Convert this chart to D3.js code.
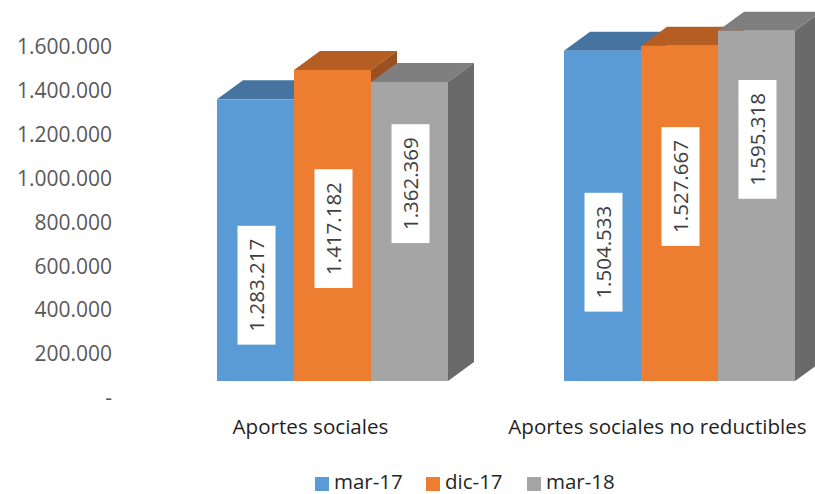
<!DOCTYPE html>
<html>
<head>
<meta charset="utf-8">
<script src="https://cdn.jsdelivr.net/npm/d3@7"></script>
<style>
  html, body { margin: 0; padding: 0; background: #fff; }
  svg { display: block; font-family: "Open Sans", "Liberation Sans", sans-serif; }
</style>
</head>
<body>
<svg id="chart" width="815" height="494"></svg>
<script>
// Categories, series and values
const categories = ["Aportes sociales", "Aportes sociales no reductibles"];
const seriesNames = ["mar-17", "dic-17", "mar-18"];
const marzo17 = [1283217, 1504533];
const diciembre17 = [1417182, 1527667];
const marzo18 = [1362369, 1595318];
const tickValues = [0, 200000, 400000, 600000, 800000, 1000000, 1200000, 1400000, 1600000];

const seriesValues = [marzo17, diciembre17, marzo18];

// Face colours: front, top, side
const palette = [
  { front: "#5B9BD5", top: "#44749F", side: "#3A6590" },
  { front: "#ED7D31", top: "#B45E24", side: "#9A5020" },
  { front: "#A5A5A5", top: "#7F7F7F", side: "#6A6A6A" }
];

// 3D look: depth offset of the back faces
const depthX = 26, depthY = -19;
// Value axis labels sit slightly below the front baseline
const tickShift = 17;
// Where each value label box sits along its bar (share of bar height)
const labelShare = [[0.34, 0.49, 0.66], [0.39, 0.58, 0.69]];

const svg = d3.select("#chart");
const fmt = v => v === 0 ? "-" : d3.format(",")(v).replace(/,/g, ".");

const y = d3.scaleLinear().domain([0, 1600000]).range([381, 381 - 1.6 * 219.5]);
const x0 = d3.scaleBand().domain(categories).range([217, 795]).paddingInner(0.3343).paddingOuter(0);
const x1 = d3.scaleBand().domain(seriesNames).range([0, x0.bandwidth()]).padding(0);

// Value axis (labels only)
const axis = svg.append("g")
  .attr("transform", `translate(112,${tickShift})`)
  .call(d3.axisLeft(y).tickValues(tickValues).tickFormat(fmt).tickSize(0).tickPadding(0));
axis.select(".domain").remove();
axis.selectAll("text")
  .attr("font-family", "Open Sans")
  .attr("font-size", 21)
  .attr("fill", "#595959");

// Bars as prisms: top, side, front (painted left to right)
const bars = [];
categories.forEach((c, g) => {
  seriesNames.forEach((s, i) => {
    bars.push({ g, i, cat: c, series: s, value: seriesValues[i][g] });
  });
});

const barG = svg.append("g");
bars.forEach(d => {
  const xl = x0(d.cat) + x1(d.series);
  const xr = xl + x1.bandwidth();
  const yt = y(d.value);
  const yb = y(0);
  const col = palette[d.i];
  const grp = barG.append("g");
  grp.append("path")
    .attr("d", `M${xl},${yt}L${xr},${yt}L${xr + depthX},${yt + depthY}L${xl + depthX},${yt + depthY}Z`)
    .attr("fill", col.top);
  grp.append("path")
    .attr("d", `M${xr},${yt}L${xr + depthX},${yt + depthY}L${xr + depthX},${yb + depthY}L${xr},${yb}Z`)
    .attr("fill", col.side);
  grp.append("rect")
    .attr("x", xl).attr("y", yt)
    .attr("width", xr - xl).attr("height", yb - yt)
    .attr("fill", col.front);
});

// Value labels in white boxes, rotated
const labelG = svg.append("g");
bars.forEach(d => {
  const cx = x0(d.cat) + x1(d.series) + x1.bandwidth() / 2 + 1;
  const cy = y(d.value * labelShare[d.g][d.i]);
  const g = labelG.append("g").attr("transform", `translate(${cx},${cy}) rotate(-90)`);
  const t = g.append("text")
    .attr("text-anchor", "middle")
    .attr("dy", "0.35em")
    .attr("font-family", "Open Sans")
    .attr("font-size", 20.5)
    .attr("fill", "#404040")
    .text(fmt(d.value));
  const w = t.node().getComputedTextLength();
  g.insert("rect", "text")
    .attr("x", -w / 2 - 13).attr("y", -19)
    .attr("width", w + 26).attr("height", 38)
    .attr("fill", "#fff");
});

// Category labels
svg.append("g").selectAll("text")
  .data(categories)
  .join("text")
  .attr("x", d => x0(d) + x0.bandwidth() / 2 - 22)
  .attr("y", 434)
  .attr("text-anchor", "middle")
  .attr("font-family", "Open Sans")
  .attr("font-size", 20.6)
  .attr("fill", "#1f1f1f")
  .text(d => d);

// Legend
const legendX = [315, 426, 527];
const legend = svg.append("g");
seriesNames.forEach((s, i) => {
  legend.append("rect")
    .attr("x", legendX[i]).attr("y", 477)
    .attr("width", 14).attr("height", 14)
    .attr("fill", palette[i].front);
  legend.append("text")
    .attr("x", legendX[i] + 19).attr("y", 488.5)
    .attr("font-family", "Open Sans")
    .attr("font-size", 20.5)
    .attr("fill", "#262626")
    .text(s);
});
</script>
</body>
</html>
